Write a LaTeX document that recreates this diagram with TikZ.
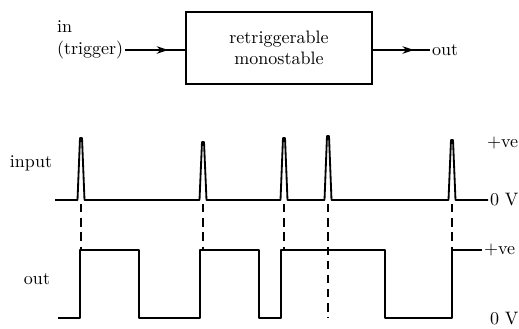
\documentclass[tikz,border=0pt]{standalone}
\usepackage{tikz}
\usetikzlibrary{positioning,arrows.meta,calc,decorations.markings}

\begin{document}
\begin{tikzpicture}[x=0.6pt,y=-0.6pt,>=Stealth,
   every node/.style={inner sep=1pt,font=\fontsize{10.8pt}{13pt}\selectfont},
   block/.style={draw,line width=1.1pt,minimum width=111.6pt,minimum height=43.2pt,align=center},
   wave/.style={line width=1.1pt,line join=round},
   guide/.style={line width=0.7pt,dash pattern=on 5pt off 3.5pt},
   mid arrow/.style={line width=1pt,postaction={decorate},decoration={markings,
      mark=at position 0.72 with {\arrow{Stealth[length=7pt,width=4.5pt]}}}}]
  \useasboundingbox (0,0) rectangle (519,328);
  % block diagram
  \node[block] (mono) at (279,48) {retriggerable\\monostable};
  \node[anchor=west] (trig) at (55,50) {(trigger)};
  \node[anchor=west] (in) at (55,27) {in};
  \node[anchor=west] (outb) at (430,50) {out};
  \draw[mid arrow] (trig.east) -- (mono.west |- trig.east);
  \draw[mid arrow] (mono.east |- outb.west) -- (outb.west);
  % labels of the waveforms
  \node (inlbl) at (31,163) {input};
  \node (outlbl) at (37,279) {out};
  \node[anchor=west] (posin) at (485,143) {+ve};
  \node[anchor=west] (zeroin) at (488,200) {0 V};
  \node[anchor=west] (posout) at (482,250) {+ve};
  \node[anchor=west] (zeroout) at (488,319) {0 V};
  % input pulses
  \draw[wave] (55,200)
    \foreach \px/\py in {81/138,203/142,284/138,328/136,452/140}{
      -- (\px-3.5,200) -- (\px-1,\py) -- (\px+1,\py) -- (\px+3.5,200)}
    -- (zeroin.west);
  % output
  \draw[wave] (58,318) -- (80,318) -- (80,250) -- (139,250) -- (139,318)
    -- (200,318) -- (200,250) -- (259,250) -- (259,318) -- (281,318)
    -- (281,250) -- (385,250) -- (385,318) -- (452,318) -- (452,250)
    -- (posout.west);
  % dashed guides
  \foreach \px in {81,203,284,452}
    \draw[guide] (\px,204) -- (\px,250);
  \draw[guide] (328,204) -- (328,318);
\end{tikzpicture}
\end{document}
